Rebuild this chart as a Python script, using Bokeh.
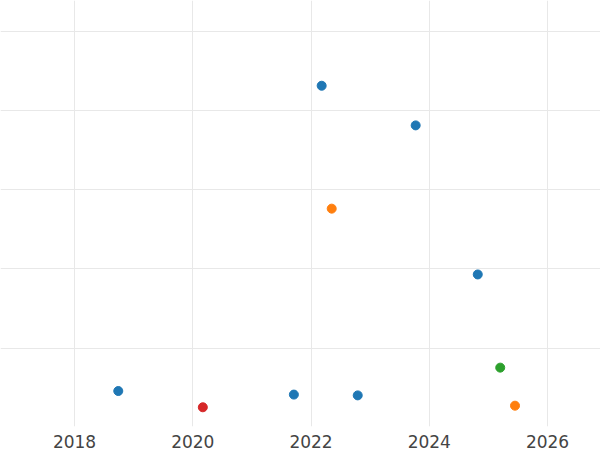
from bokeh.plotting import figure
from bokeh.models import Range1d, FixedTicker, ColumnDataSource
from bokeh.embed import file_html
from bokeh.resources import INLINE

# Data (x in fractional years, y in arbitrary units)
blue_x = [2018.74, 2021.71, 2022.79, 2022.18, 2023.77, 2024.82]
blue_y = [9.2, 8.3, 8.1, 86.2, 76.2, 38.6]
orange_x = [2022.35, 2025.45]
orange_y = [55.2, 5.5]
green_x = [2025.20]
green_y = [15.1]
red_x = [2020.17]
red_y = [5.1]

x_ticks = [2018, 2020, 2022, 2024, 2026]
y_ticks = [20, 40, 60, 80, 100]

p = figure(width=600, height=450, output_backend="svg", toolbar_location=None,
           x_range=Range1d(2016.748, 2026.896),
           y_range=Range1d(0.25, 107.7),
           min_border_left=0, min_border_right=0, min_border_top=0, min_border_bottom=20)

p.outline_line_color = None
p.background_fill_color = "white"
p.border_fill_color = "white"

p.yaxis.visible = False
p.xaxis.ticker = FixedTicker(ticks=x_ticks)
p.yaxis.ticker = FixedTicker(ticks=y_ticks)
p.xaxis.axis_line_color = None
p.xaxis.major_tick_line_color = None
p.xaxis.minor_tick_line_color = None
p.xaxis.major_label_text_font = "DejaVu Sans"
p.xaxis.major_label_text_font_size = "17px"
p.xaxis.major_label_text_color = "#444444"
p.xaxis.major_label_standoff = 2

p.xgrid.grid_line_color = "#e8e8e8"
p.ygrid.grid_line_color = "#e8e8e8"
p.xgrid.grid_line_width = 1
p.ygrid.grid_line_width = 1

for xs, ys, c in [(blue_x, blue_y, "#1f77b4"), (orange_x, orange_y, "#ff7f0e"),
                  (green_x, green_y, "#2ca02c"), (red_x, red_y, "#d62728")]:
    src = ColumnDataSource(dict(x=xs, y=ys))
    p.scatter("x", "y", source=src, size=9, fill_color=c, line_color=c)

open("out.html", "w").write(file_html(p, INLINE))
